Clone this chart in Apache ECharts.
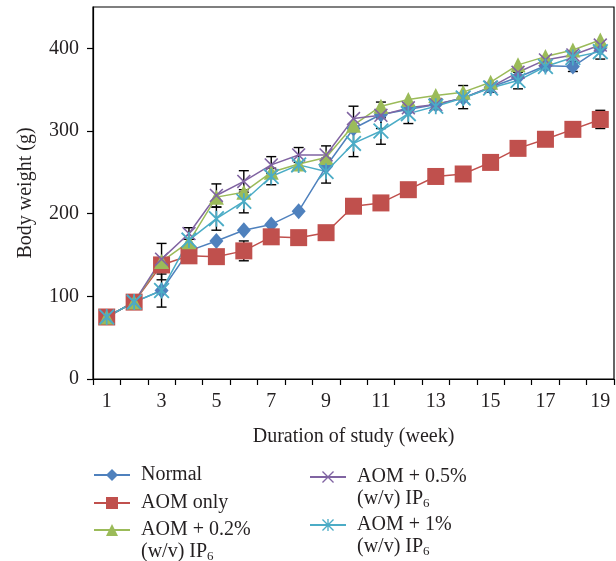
<!DOCTYPE html>
<html>
<head>
<meta charset="utf-8">
<script src="https://cdn.jsdelivr.net/npm/echarts@6/dist/echarts.min.js"></script>
<style>
html, body { margin: 0; padding: 0; background: #fff; }
#chart { width: 616px; height: 561px; }
</style>
</head>
<body>
<div id="chart"></div>
<script>
// weeks of the study
var weeks = ['1','2','3','4','5','6','7','8','9','10','11','12','13','14','15','16','17','18','19'];

// body weight (g)
var normal   = [75, 93, 107, 155, 167, 180, 187, 203, 257, 303, 320, 326, 332, 340, 353, 365, 379, 378, 400];
var aomOnly  = [75, 93, 138, 149, 148, 155, 172, 171, 177, 209, 213, 229, 245, 248, 262, 279, 290, 302, 314];
var aom02    = [75, 93, 142, 166, 220, 226, 250, 260, 268, 307, 330, 338, 343, 347, 359, 380, 390, 398, 410];
var aom05    = [75, 93, 145, 176, 222, 239, 259, 271, 271, 315, 319, 328, 332, 340, 353, 371, 386, 392, 404];
var aom1     = [75, 93, 107, 168, 194, 215, 245, 259, 251, 285, 300, 321, 330, 340, 352, 361, 378, 389, 396];

// error bars: [week, mean, sd]
var errorBars = [
    [3, 107, 20], [3, 142, 22], [4, 176, 7],
    [5, 222, 14], [5, 194, 14],
    [6, 239, 13], [6, 155, 12], [6, 215, 14],
    [7, 259, 10], [7, 245, 10],
    [8, 271, 9],
    [9, 270, 12], [9, 252, 15],
    [10, 315, 15], [10, 285, 16],
    [11, 319, 16], [11, 300, 16],
    [12, 321, 12], [13, 331, 5],
    [14, 341, 14], [15, 352, 5],
    [16, 361, 10], [17, 379, 4],
    [18, 378, 6], [19, 396, 9], [19, 314, 11]
];

var yTicks = [0, 100, 200, 300, 400];

var seriesNames = ['Normal', 'AOM only', 'AOM + 0.2% (w/v) IP6', 'AOM + 0.5% (w/v) IP6', 'AOM + 1% (w/v) IP6'];

var FONT = 'Liberation Serif';
var TXT = '#231f20';

var xPath = 'path://M0,0.8 L0.8,0 L5,4.2 L9.2,0 L10,0.8 L5.8,5 L10,9.2 L9.2,10 L5,5.8 L0.8,10 L0,9.2 L4.2,5 Z';
var starPath = 'path://M0,0.8 L0.8,0 L5,4.2 L9.2,0 L10,0.8 L5.8,5 L10,9.2 L9.2,10 L5,5.8 L0.8,10 L0,9.2 L4.2,5 Z M4.45,0 L5.55,0 L5.55,10 L4.45,10 Z';

var myChart = echarts.init(document.getElementById('chart'));

function legendText(name) {
    if (name === 'Normal' || name === 'AOM only') return '{t|' + name + '}';
    var first = name.replace(' (w/v) IP6', '');
    return '{t|' + first + '}\n{t|(w/v) IP}{s|6}';
}

var richText = {
    t: { fontFamily: FONT, fontSize: 20, lineHeight: 22, color: TXT },
    s: { fontFamily: FONT, fontSize: 13, lineHeight: 22, color: TXT, verticalAlign: 'bottom', padding: [7, 0, 0, 0] }
};

function makeLegend(name, left, top, twoLines) {
    return {
        data: [{ name: name, textStyle: { padding: twoLines ? [22, 0, 0, 6] : [0, 0, 0, 6] } }],
        left: left,
        top: top,
        padding: 0,
        orient: 'vertical',
        itemWidth: 36,
        itemHeight: 15,
        itemGap: 0,
        selectedMode: false,
        formatter: legendText,
        textStyle: { fontFamily: FONT, fontSize: 20, color: TXT, rich: richText }
    };
}

function renderErrorBar(params, api) {
    var x = api.value(0);
    var lo = api.coord([x, api.value(1)]);
    var hi = api.coord([x, api.value(2)]);
    var hw = 5;
    var st = { stroke: '#000', lineWidth: 1.4 };
    return {
        type: 'group',
        children: [
            { type: 'line', shape: { x1: hi[0], y1: hi[1], x2: lo[0], y2: lo[1] }, style: st },
            { type: 'line', shape: { x1: hi[0] - hw, y1: hi[1], x2: hi[0] + hw, y2: hi[1] }, style: st },
            { type: 'line', shape: { x1: lo[0] - hw, y1: lo[1], x2: lo[0] + hw, y2: lo[1] }, style: st }
        ]
    };
}

function lineSeries(name, data, color, symbol, size) {
    return {
        name: name,
        type: 'line',
        data: data,
        symbol: symbol,
        symbolSize: size,
        showAllSymbol: true,
        itemStyle: { color: color },
        lineStyle: { color: color, width: 1.5 },
        emphasis: { disabled: true },
        z: 3
    };
}

var option = {
    animation: false,
    backgroundColor: '#fff',
    grid: {
        left: 93,
        right: 2,
        top: 7,
        bottom: 182,
        show: true,
        borderColor: '#000',
        borderWidth: 1.2
    },
    legend: [
        makeLegend(seriesNames[0], 93, 465, false),
        makeLegend(seriesNames[1], 93, 493, false),
        makeLegend(seriesNames[2], 93, 520, true),
        makeLegend(seriesNames[3], 309, 467, true),
        makeLegend(seriesNames[4], 309, 515, true)
    ],
    xAxis: {
        type: 'category',
        data: weeks,
        boundaryGap: true,
        name: 'Duration of study (week)',
        nameLocation: 'middle',
        nameGap: 48,
        nameTextStyle: { fontFamily: FONT, fontSize: 20, color: TXT },
        axisLine: { lineStyle: { color: '#000', width: 1.2 } },
        axisTick: { show: true, interval: 0, length: 6, lineStyle: { color: '#000', width: 1.2 } },
        axisLabel: { interval: 1, margin: 13, fontFamily: FONT, fontSize: 20, color: TXT },
        splitLine: { show: false }
    },
    yAxis: {
        type: 'value',
        min: 0,
        max: 450,
        interval: 100,
        name: 'Body weight (g)',
        nameLocation: 'middle',
        nameGap: 57,
        nameTextStyle: { fontFamily: FONT, fontSize: 20, color: TXT },
        axisLine: { show: true, lineStyle: { color: '#000', width: 1.2 } },
        axisTick: { show: true, length: 6, customValues: yTicks, lineStyle: { color: '#000', width: 1.2 } },
        axisLabel: { margin: 14, customValues: yTicks, fontFamily: FONT, fontSize: 20, color: TXT },
        splitLine: { show: false }
    },
    series: [
        {
            type: 'custom',
            renderItem: renderErrorBar,
            data: errorBars.map(function (e) { return [e[0] - 1, e[1] - e[2], e[1] + e[2]]; }),
            encode: { x: 0, y: [1, 2] },
            silent: true,
            z: 1
        },
        lineSeries(seriesNames[0], normal, '#4f81bd', 'diamond', [14, 16]),
        lineSeries(seriesNames[1], aomOnly, '#c0504d', 'rect', 17),
        lineSeries(seriesNames[2], aom02, '#9bbb59', 'triangle', 15),
        lineSeries(seriesNames[3], aom05, '#8064a2', xPath, 14),
        lineSeries(seriesNames[4], aom1, '#4bacc6', starPath, 16)
    ]
};

myChart.setOption(option);
</script>
</body>
</html>
